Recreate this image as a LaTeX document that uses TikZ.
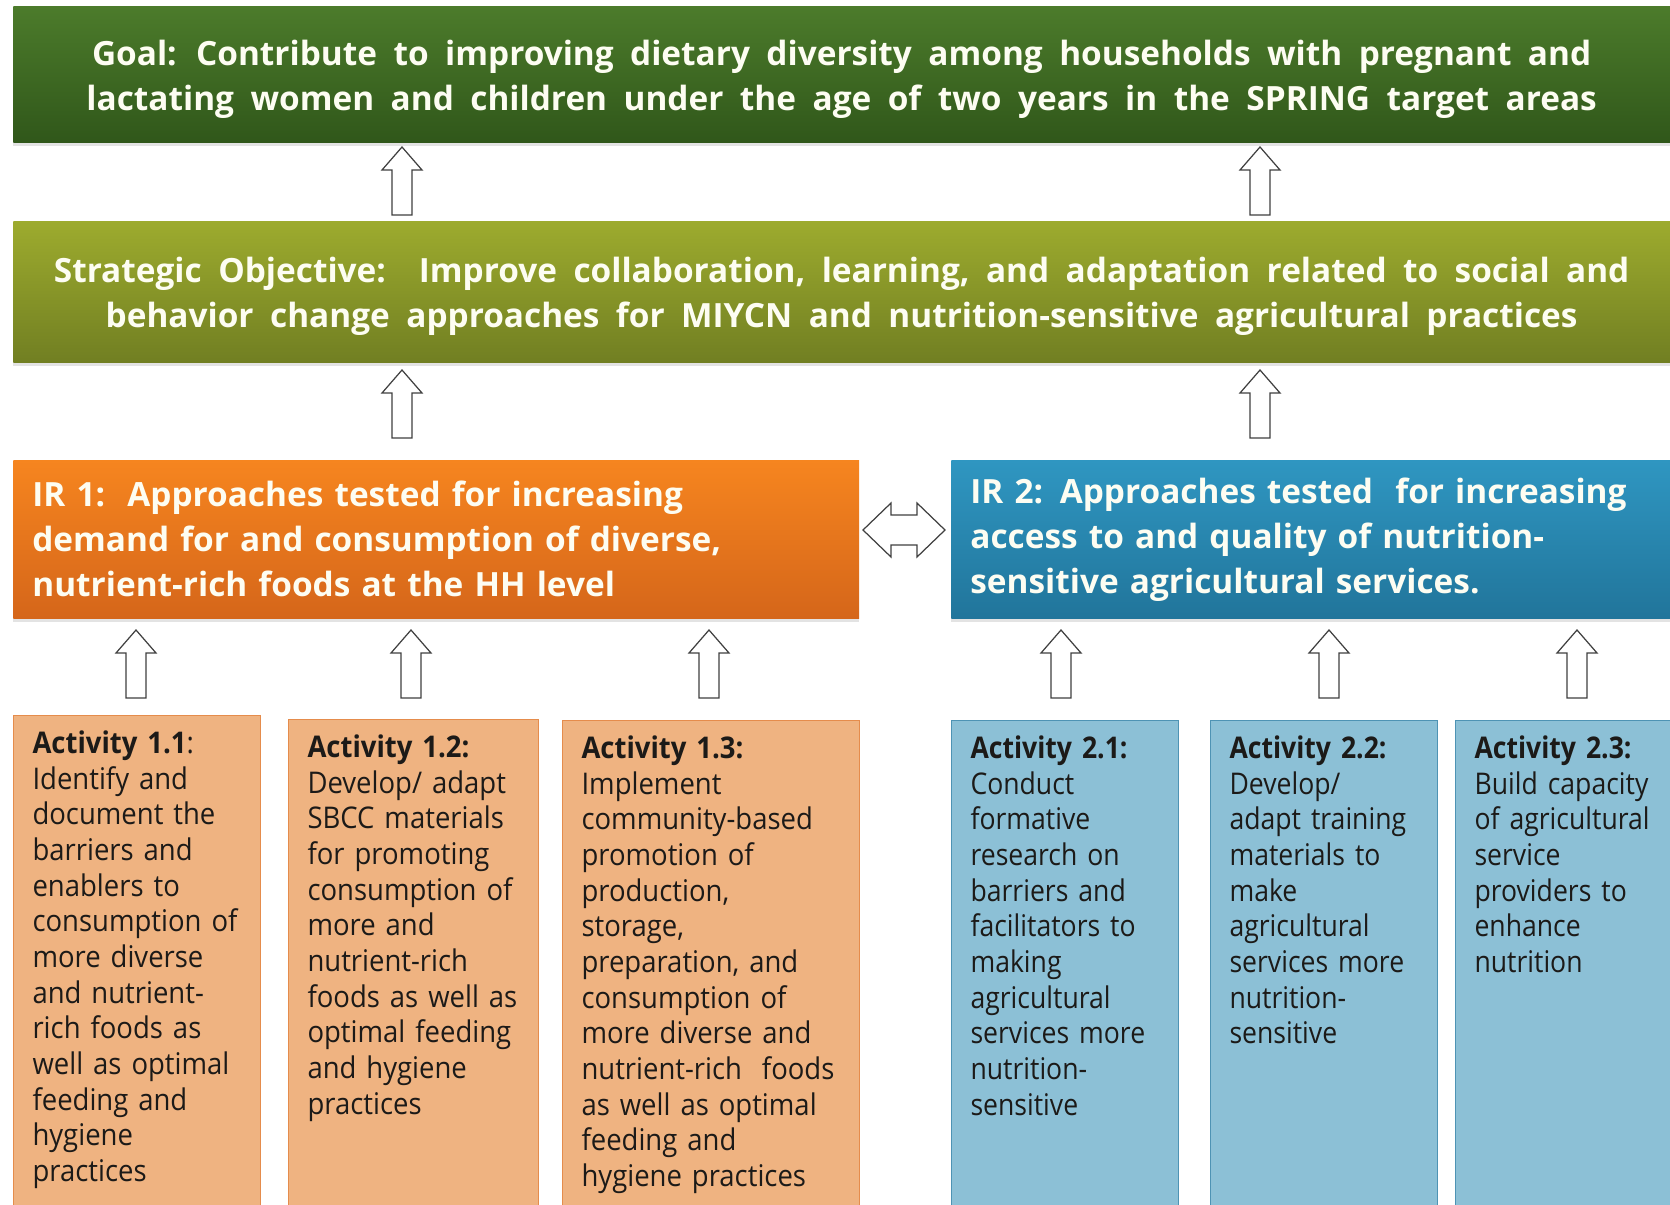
\documentclass[tikz,border=0pt]{standalone}
\usepackage{fontspec}
\setmainfont{Open Sans}
\newfontfamily\headfont{Open Sans}[WordSpace=1.9]
\newfontfamily\orangefont{Open Sans}[FakeStretch=0.92]
\newfontfamily\bluefont{Open Sans}[FakeStretch=0.89]
\newcommand\nobreakhyph{\hyphenpenalty=10000 \exhyphenpenalty=10000 }
\newcommand\headstrut{\rule{0pt}{20pt}}
\usetikzlibrary{shadows}
\definecolor{goaltop}{HTML}{4C7B2B}
\definecolor{goalbot}{HTML}{30571A}
\definecolor{sotop}{HTML}{9DAB2E}
\definecolor{sobot}{HTML}{717F22}
\definecolor{irorangetop}{HTML}{F6851F}
\definecolor{irorangebot}{HTML}{D5661A}
\definecolor{irbluetop}{HTML}{2F96C1}
\definecolor{irbluebot}{HTML}{21759B}
\definecolor{actorange}{HTML}{EFB381}
\definecolor{actorangeline}{HTML}{E58C4C}
\definecolor{actblue}{HTML}{8CC0D6}
\definecolor{actblueline}{HTML}{4E93B4}
\definecolor{headtext}{HTML}{FDFDF2}
\definecolor{acttext}{HTML}{1C1A18}

\begin{document}
\begin{tikzpicture}[x=0.02cm,y=-0.02cm,
    bigbox/.style={anchor=north west,inner xsep=0.38cm,text=headtext,
      font=\fontsize{19}{25.6}\headfont\bfseries,
      drop shadow={opacity=0.22,shadow xshift=0pt,shadow yshift=-0.07cm}},
    actbox/.style={anchor=north west,align=left,inner xsep=0.38cm,inner ysep=0.16cm,
      text height=0.6cm,text depth=9.4cm,text=acttext,line width=0.6pt},
    orangeact/.style={actbox,fill=actorange,draw=actorangeline,
      font=\fontsize{17}{20.3}\orangefont\nobreakhyph},
    blueact/.style={actbox,fill=actblue,draw=actblueline,
      font=\fontsize{17}{20.3}\bluefont\nobreakhyph},
    arrline/.style={draw=black!75,fill=white,line width=0.7pt,line join=miter},
    uparr/.pic={\draw[arrline] (-10,34) -- (-10,-11) -- (-20,-11) -- (0,-34)
      -- (20,-11) -- (10,-11) -- (10,34) -- cycle;},
    dblarr/.pic={\draw[arrline] (-41,0) -- (-13,-27) -- (-13,-15) -- (13,-15) -- (13,-27)
      -- (41,0) -- (13,27) -- (13,15) -- (-13,15) -- (-13,27) -- cycle;}]

  \fill[white] (0,0) rectangle (1670,1204);
  \useasboundingbox (0,0) rectangle (1670,1204); % page = reference size

  % goal and strategic objective
  \node[bigbox,top color=goaltop,bottom color=goalbot,align=center,
    minimum width=33.14cm,minimum height=2.72cm] (goal) at (13,6)
    {\headstrut Goal: Contribute to improving dietary diversity among households with pregnant and\\
     lactating women and children under the age of two years in the SPRING target areas};
  \node[bigbox,top color=sotop,bottom color=sobot,align=center,
    minimum width=33.14cm,minimum height=2.82cm] (so) at (13,221)
    {\headstrut Strategic Objective:\ \ Improve collaboration, learning, and adaptation related to social and\\
     behavior change approaches for MIYCN and nutrition-sensitive agricultural practices};

  % intermediate results
  \node[bigbox,top color=irorangetop,bottom color=irorangebot,align=left,
    text width=16.16cm,minimum height=3.16cm] (ir1) at (13,460)
    {IR 1:\ \ Approaches tested for increasing\\
     demand for and consumption of diverse,\\
     nutrient-rich foods at the HH level};
  \node[bigbox,top color=irbluetop,bottom color=irbluebot,align=left,
    text width=13.62cm,minimum height=3.16cm] (ir2) at (951,460)
    {IR 2: Approaches tested\ \ for increasing\\
     access to and quality of nutrition-\\
     sensitive agricultural services.};

  % activities
  \node[orangeact,text width=4.18cm] (a11) at (13,715)
    {\textbf{Activity 1.1}:\\ Identify and\\ document the\\ barriers and\\ enablers to\\
     consumption of\\ more diverse\\ and nutrient-\\ rich foods as\\ well as optimal\\
     feeding and\\ hygiene\\ practices};
  \node[orangeact,text width=4.24cm] (a12) at (288,719)
    {\textbf{Activity 1.2:}\\ Develop/ adapt\\ SBCC materials\\ for promoting\\ consumption of\\
     more and\\ nutrient-rich\\ foods as well as\\ optimal feeding\\ and hygiene\\ practices};
  \node[orangeact,text width=5.18cm] (a13) at (562,720)
    {\textbf{Activity 1.3:}\\ Implement\\ community-based\\ promotion of\\ production,\\ storage,\\
     preparation,\ and\\ consumption of\\ more diverse and\\ nutrient-rich\ \ foods\\
     as well as optimal\\ feeding and\\ hygiene\ practices};
  \node[blueact,text width=3.78cm] (a21) at (951,720)
    {\textbf{Activity 2.1:}\\ Conduct\\ formative\\ research\ on\\ barriers and\\ facilitators\ to\\
     making\\ agricultural\\ services more\\ nutrition-\\ sensitive};
  \node[blueact,text width=3.78cm] (a22) at (1210,720)
    {\textbf{Activity 2.2:}\\ Develop/\\ adapt training\\ materials to\\ make\\ agricultural\\
     services more\\ nutrition-\\ sensitive};
  \node[blueact,text width=3.9cm] (a23) at (1455,720)
    {\textbf{Activity 2.3:}\\ Build capacity\\ of agricultural\\ service\\ providers to\\
     enhance\\ nutrition};

  % block arrows
  \foreach \x in {402,1260} {
    \pic at (\x,181) {uparr};
    \pic at (\x,404) {uparr};
  }
  \foreach \x in {136,411,709,1061,1329,1577}
    \pic at (\x,664) {uparr};
  \pic at (904,530) {dblarr};
\end{tikzpicture}
\end{document}
